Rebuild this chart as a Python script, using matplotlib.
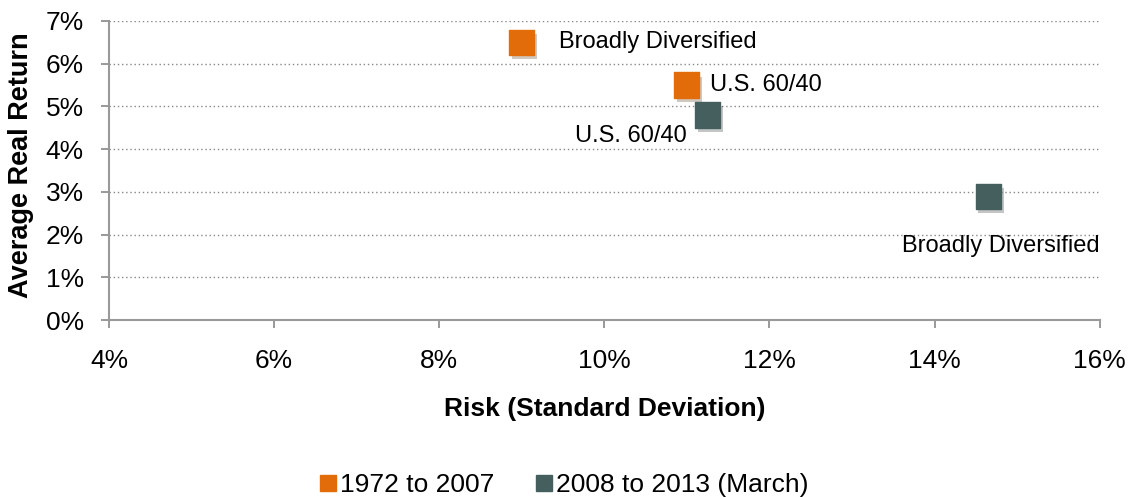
import matplotlib
matplotlib.use("Agg")
import matplotlib.pyplot as plt
import matplotlib.patheffects as pe
from matplotlib.lines import Line2D
from matplotlib.ticker import FuncFormatter

plt.rcParams['font.family'] = ['Liberation Sans', 'DejaVu Sans']

# 数据
series_names = ["1972 to 2007", "2008 to 2013 (March)"]
series_colors = ["#E36C0A", "#455F5F"]
point_labels = ["Broadly Diversified", "U.S. 60/40"]
risk_1972 = [9.0, 11.0]
ret_1972 = [6.5, 5.5]
risk_2008 = [14.65, 11.25]
ret_2008 = [2.9, 4.8]

fig = plt.figure(figsize=(11.29, 4.97), dpi=100)
ax = fig.add_axes([0.0965, 0.356, 0.8775, 0.602])

shadow = [pe.SimplePatchShadow(offset=(2, -3), alpha=0.25), pe.Normal()]
ax.scatter(risk_1972, ret_1972, marker='s', s=330, color=series_colors[0],
           zorder=3, path_effects=shadow)
ax.scatter(risk_2008, ret_2008, marker='s', s=330, color=series_colors[1],
           zorder=3, path_effects=shadow)

# 标注
fs = 17
ax.annotate(point_labels[0], (risk_1972[0], ret_1972[0]), xytext=(27, 0),
            textcoords='offset points', va='center', ha='left', fontsize=fs)
ax.annotate(point_labels[1], (risk_1972[1], ret_1972[1]), xytext=(17, 0),
            textcoords='offset points', va='center', ha='left', fontsize=fs)
ax.annotate(point_labels[1], (risk_2008[1], ret_2008[1]), xytext=(-15, -15),
            textcoords='offset points', va='center', ha='right', fontsize=fs)
ax.annotate(point_labels[0], (risk_2008[0], ret_2008[0]), xytext=(80, -36),
            textcoords='offset points', va='center', ha='right', fontsize=fs)

ax.set_xlim(4, 16)
ax.set_ylim(0, 7)
ax.set_xticks(range(4, 17, 2))
ax.set_yticks(range(0, 8))
pct = FuncFormatter(lambda v, p: f"{v:.0f}%")
ax.xaxis.set_major_formatter(pct)
ax.yaxis.set_major_formatter(pct)
ax.tick_params(labelsize=19, color='#888888', length=6, width=1.2)
ax.tick_params(axis='x', pad=15)
ax.tick_params(axis='y', pad=12)
ax.grid(axis='y', linestyle=(0, (1, 2)), color='#888888', linewidth=1)
ax.set_axisbelow(True)
for s in ['top', 'right']:
    ax.spines[s].set_visible(False)
for s in ['left', 'bottom']:
    ax.spines[s].set_color('#999999')
    ax.spines[s].set_linewidth(1.5)

ax.set_xlabel("Risk (Standard Deviation)", fontsize=19, fontweight='bold')
ax.xaxis.set_label_coords(0.5, -0.258)
ax.set_ylabel("Average Real Return", fontsize=19.5, fontweight='bold')
ax.yaxis.set_label_coords(-0.076, 0.518)

handles = [Line2D([], [], linestyle='none', marker='s', markersize=11.5,
                  color=c) for c in series_colors]
fig.legend(handles, series_names, loc='center', bbox_to_anchor=(0.5, 0.024),
           ncol=2, frameon=False, fontsize=19, handlelength=0.6,
           handletextpad=0.15, columnspacing=1.6)

fig.savefig("out.png", dpi=100)
